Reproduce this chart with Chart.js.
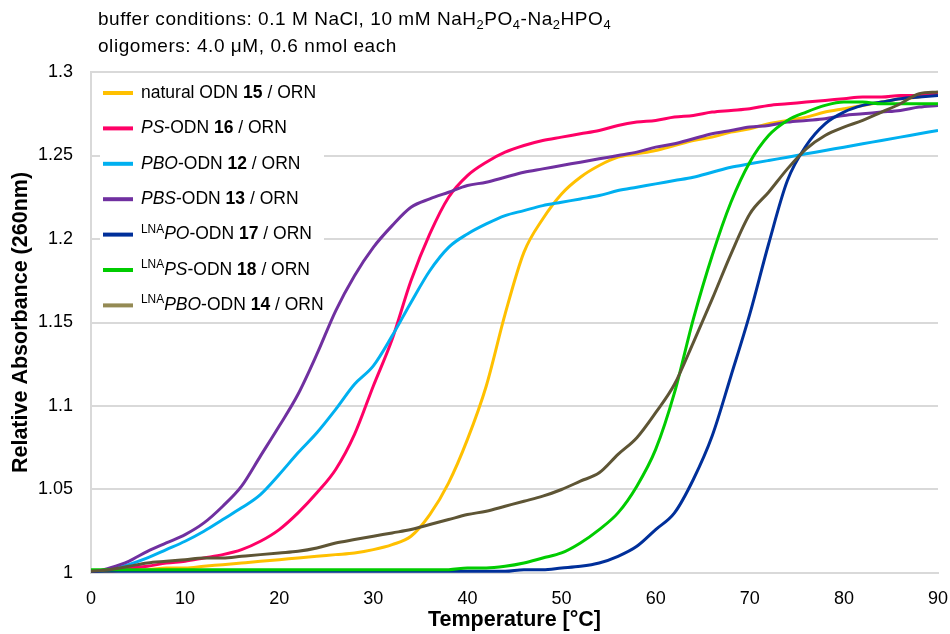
<!DOCTYPE html>
<html>
<head>
<meta charset="utf-8">
<script src="https://cdn.jsdelivr.net/npm/chart.js@4.4.1/dist/chart.umd.min.js"></script>
<style>
  body { margin: 0; background: #fff; }
  #wrap { width: 950px; height: 634px; position: relative; }
</style>
</head>
<body>
<div id="wrap"><canvas id="canvas"></canvas></div>
<script>
// temperature (°C)
var temps = [0,2,4,6,8,10,12,14,16,18,20,22,24,26,28,30,32,34,36,38,40,42,44,46,48,50,52,54,56,58,60,62,64,66,68,70,72,74,76,78,80,82,84,86,88,90];

var natural15 = [1.000,1.001,1.002,1.002,1.003,1.003,1.004,1.005,1.006,1.007,1.008,1.009,1.010,1.011,1.012,1.014,1.017,1.022,1.035,1.054,1.080,1.112,1.155,1.192,1.212,1.227,1.237,1.244,1.249,1.251,1.253,1.256,1.259,1.261,1.264,1.266,1.269,1.271,1.273,1.276,1.278,1.280,1.282,1.284,1.285,1.287];
var ps16 = [1.001,1.002,1.003,1.004,1.006,1.007,1.009,1.011,1.014,1.019,1.026,1.036,1.048,1.062,1.083,1.112,1.140,1.175,1.203,1.225,1.238,1.246,1.252,1.256,1.259,1.261,1.263,1.265,1.268,1.270,1.271,1.273,1.274,1.276,1.277,1.278,1.280,1.281,1.282,1.283,1.284,1.285,1.285,1.286,1.286,1.287];
var pbo12 = [1.000,1.002,1.005,1.009,1.014,1.019,1.025,1.032,1.039,1.047,1.059,1.072,1.084,1.098,1.113,1.124,1.142,1.162,1.181,1.195,1.203,1.209,1.214,1.217,1.220,1.222,1.224,1.226,1.229,1.231,1.233,1.235,1.237,1.240,1.243,1.245,1.247,1.249,1.251,1.253,1.255,1.257,1.259,1.261,1.263,1.265];
var pbs13 = [1.000,1.003,1.007,1.013,1.018,1.023,1.030,1.040,1.052,1.070,1.088,1.107,1.131,1.157,1.178,1.195,1.208,1.219,1.224,1.228,1.232,1.234,1.237,1.240,1.242,1.244,1.246,1.248,1.250,1.252,1.255,1.257,1.260,1.263,1.265,1.267,1.268,1.270,1.271,1.272,1.274,1.275,1.276,1.277,1.279,1.280];
var lnaPO17 = [1.001,1.001,1.001,1.001,1.001,1.001,1.001,1.001,1.001,1.001,1.001,1.001,1.001,1.001,1.001,1.001,1.001,1.001,1.001,1.001,1.001,1.001,1.001,1.002,1.002,1.003,1.004,1.006,1.010,1.016,1.026,1.036,1.056,1.082,1.118,1.155,1.197,1.235,1.256,1.269,1.276,1.280,1.282,1.284,1.285,1.286];
var lnaPS18 = [1.002,1.002,1.002,1.002,1.002,1.002,1.002,1.002,1.002,1.002,1.002,1.002,1.002,1.002,1.002,1.002,1.002,1.002,1.002,1.002,1.003,1.003,1.004,1.006,1.009,1.012,1.018,1.026,1.036,1.052,1.074,1.108,1.152,1.190,1.222,1.246,1.262,1.271,1.276,1.280,1.282,1.282,1.281,1.281,1.281,1.281];
var lnaPBO14 = [1.001,1.002,1.004,1.006,1.007,1.008,1.009,1.009,1.010,1.011,1.012,1.013,1.015,1.018,1.020,1.022,1.024,1.026,1.029,1.032,1.035,1.037,1.040,1.043,1.046,1.050,1.055,1.060,1.071,1.081,1.096,1.113,1.138,1.164,1.191,1.215,1.228,1.242,1.254,1.262,1.267,1.271,1.276,1.281,1.287,1.288];

var yTicks = [1, 1.05, 1.1, 1.15, 1.2, 1.25, 1.3];

// legend labels: [text, style]  (b = bold, i = italic, sup = superscript)
var labels = [
  [['natural ODN ',''],['15','b'],[' / ORN','']],
  [['PS','i'],['-ODN ',''],['16','b'],[' / ORN','']],
  [['PBO','i'],['-ODN ',''],['12','b'],[' / ORN','']],
  [['PBS','i'],['-ODN ',''],['13','b'],[' / ORN','']],
  [['LNA','sup'],['PO','i'],['-ODN ',''],['17','b'],[' / ORN','']],
  [['LNA','sup'],['PS','i'],['-ODN ',''],['18','b'],[' / ORN','']],
  [['LNA','sup'],['PBO','i'],['-ODN ',''],['14','b'],[' / ORN','']]
];
var series = [natural15, ps16, pbo12, pbs13, lnaPO17, lnaPS18, lnaPBO14];
var colors = ['#FFC000','#FF0066','#00B0F0','#7030A0','#002F9A','#00CC00','#5E5535'];
var swatch = ['#FFC000','#FF0066','#00B0F0','#7030A0','#002F9A','#00CC00','#948A54'];

var titleLines = [
  [['buffer conditions: 0.1 M NaCl, 10 mM NaH',''],['2','sub'],['PO',''],['4','sub'],['-Na',''],['2','sub'],['HPO',''],['4','sub']],
  [['oligomers: 4.0 \u03bcM, 0.6 nmol each','']]
];

var FONT = '"Liberation Sans", Arial, sans-serif';

function drawRich(ctx, x, y, parts, size) {
  ctx.textBaseline = 'middle';
  ctx.textAlign = 'left';
  parts.forEach(function(p){
    var st = p[1];
    var sz = (st == 'sub' || st == 'sup') ? size * 0.68 : size;
    var dy = st == 'sub' ? size * 0.3 : (st == 'sup' ? -size * 0.3 : 0);
    ctx.font = (st == 'i' ? 'italic ' : '') + (st == 'b' ? 'bold ' : '') + sz + 'px ' + FONT;
    ctx.fillText(p[0], x, y + dy);
    x += ctx.measureText(p[0]).width;
  });
}

var extras = {
  id: 'extras',
  beforeDatasetsDraw: function(chart){
    var ctx = chart.ctx;
    ctx.save();
    // legend box
    ctx.fillStyle = '#fff';
    ctx.fillRect(100, 74, 224, 246);
    labels.forEach(function(lab, i){
      var y = 93 + i * 35.4;
      ctx.strokeStyle = swatch[i];
      ctx.lineWidth = 4;
      ctx.beginPath();
      ctx.moveTo(103, y);
      ctx.lineTo(133, y);
      ctx.stroke();
      ctx.fillStyle = '#000';
      drawRich(ctx, 141, y, lab, 17.5);
    });
    ctx.restore();
  },
  afterDraw: function(chart){
    var ctx = chart.ctx;
    ctx.save();
    ctx.fillStyle = '#000';
    ctx.letterSpacing = '0.55px';
    drawRich(ctx, 98, 20, titleLines[0], 19);
    drawRich(ctx, 98, 47, titleLines[1], 19);
    ctx.restore();
  }
};

var datasets = series.map(function(vals, i){
  return {
    label: labels[i].map(function(p){ return p[0]; }).join(''),
    data: temps.map(function(t, k){ return {x: t, y: vals[k]}; }),
    borderColor: colors[i],
    backgroundColor: colors[i],
    borderWidth: 3,
    pointRadius: 0,
    cubicInterpolationMode: 'monotone',
    order: series.length - i
  };
});

var ctx = document.getElementById('canvas');
window.myChart = new Chart(ctx, {
  type: 'line',
  data: { datasets: datasets },
  plugins: [extras],
  options: {
    responsive: true,
    maintainAspectRatio: false,
    animation: false,
    layout: { padding: { top: 72, right: 12, bottom: 0, left: 0 } },
    plugins: { legend: { display: false }, tooltip: { enabled: false } },
    scales: {
      x: {
        type: 'linear', min: 0, max: 90,
        afterFit: function(s){ s.height = 61; s.paddingRight = 12; },
        grid: { display: false },
        border: { display: true, color: '#D9D9D9', width: 2 },
        ticks: { stepSize: 10, padding: 7, color: '#000', font: { family: FONT, size: 18 } },
        title: { display: true, text: 'Temperature [°C]', color: '#000', padding: { top: 0, bottom: 1 },
                 font: { family: FONT, size: 21.5, weight: 'bold' } }
      },
      y: {
        min: 1, max: 1.3,
        afterFit: function(s){ s.width = 91; },
        afterBuildTicks: function(s){ s.ticks = yTicks.map(function(v){ return {value: v}; }); },
        grid: { color: '#D9D9D9', lineWidth: 2, drawTicks: false },
        border: { display: true, color: '#D9D9D9', width: 2 },
        ticks: { padding: 18, color: '#000', font: { family: FONT, size: 18 },
                 callback: function(v){ return String(parseFloat(v.toFixed(2))); } },
        title: { display: true, text: 'Relative Absorbance (260nm)', color: '#000', padding: { top: 8, bottom: 0 },
                 font: { family: FONT, size: 21.5, weight: 'bold' } }
      }
    }
  }
});
</script>
</body>
</html>
